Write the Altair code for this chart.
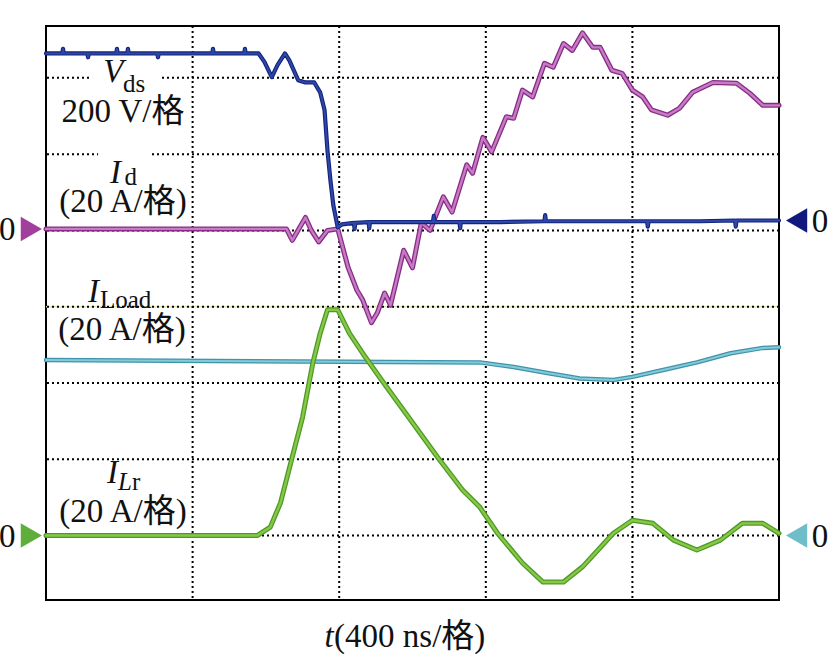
import altair as alt
import pandas as pd

# Oscilloscope capture: time in divisions (400 ns/div), amplitude in vertical divisions
vds_t = [0.00, 0.111, 0.116, 0.121, 0.282, 0.287, 0.292, 0.479, 0.484, 0.489, 0.554, 0.559, 0.564,
         0.759, 0.764, 0.769, 1.134, 1.139, 1.144, 1.352, 1.357, 1.362, 1.45,
         1.49, 1.54, 1.58, 1.63, 1.66, 1.72, 1.77, 1.83, 1.87, 1.90, 1.92, 1.94,
         1.96, 1.99, 2.02, 2.10, 2.105, 2.11, 2.20, 2.205, 2.21, 2.41, 2.64, 2.645, 2.65, 2.82, 2.825, 2.83,
         3.10, 3.40, 3.405, 3.41, 3.78, 4.10, 4.105, 4.11, 4.46, 4.70, 4.705, 4.71, 5.00]
vds_v = [6.32, 6.32, 6.38, 6.32, 6.32, 6.27, 6.32, 6.32, 6.38, 6.32, 6.32, 6.38, 6.32,
         6.32, 6.27, 6.32, 6.32, 6.38, 6.32, 6.32, 6.38, 6.32, 6.32,
         6.21, 6.01, 6.17, 6.32, 6.23, 5.97, 5.94, 5.94, 5.81, 5.58, 5.05, 4.66,
         4.33, 4.04, 4.08, 4.10, 4.02, 4.10, 4.11, 4.03, 4.11, 4.11, 4.11, 4.19, 4.11, 4.11, 4.03, 4.11,
         4.11, 4.12, 4.20, 4.12, 4.12, 4.12, 4.05, 4.12, 4.12, 4.13, 4.05, 4.13, 4.13]

id_t = [0.00, 1.64, 1.68, 1.77, 1.81, 1.86, 1.92, 1.99, 2.06, 2.12, 2.16, 2.22, 2.26, 2.31, 2.35, 2.44,
        2.50, 2.56, 2.62, 2.71, 2.77, 2.87, 2.91, 2.98, 3.04, 3.14, 3.19, 3.25, 3.32, 3.40, 3.46, 3.53,
        3.59, 3.66, 3.73, 3.78, 3.86, 3.93, 4.00, 4.07, 4.13, 4.24, 4.32, 4.41, 4.55, 4.71, 4.80, 4.89, 5.00]
id_v = [4.02, 4.02, 3.87, 4.17, 4.00, 3.85, 4.00, 4.02, 3.52, 3.22, 3.09, 2.79, 2.92, 3.18, 3.02, 3.74,
        3.51, 4.10, 4.00, 4.44, 4.24, 4.86, 4.75, 5.22, 5.03, 5.49, 5.47, 5.84, 5.75, 6.19, 6.14, 6.45,
        6.36, 6.59, 6.40, 6.40, 6.10, 6.06, 5.84, 5.75, 5.58, 5.51, 5.60, 5.81, 5.94, 5.93, 5.80, 5.64, 5.64]

iload_t = [0.00, 2.96, 3.19, 3.42, 3.64, 3.87, 4.00, 4.21, 4.44, 4.67, 4.89, 5.00]
iload_v = [2.30, 2.27, 2.21, 2.13, 2.06, 2.04, 2.08, 2.17, 2.27, 2.39, 2.46, 2.47]

ilr_t = [0.00, 1.44, 1.53, 1.60, 1.68, 1.75, 1.82, 1.87, 1.92, 1.99, 2.07, 2.16, 2.30, 2.44, 2.67, 2.84,
         2.96, 3.08, 3.25, 3.39, 3.53, 3.66, 3.87, 4.00, 4.14, 4.28, 4.44, 4.60, 4.75, 4.89, 5.00]
ilr_v = [0.00, 0.00, 0.11, 0.43, 1.03, 1.55, 2.26, 2.65, 2.96, 2.96, 2.65, 2.39, 2.01, 1.64, 1.03, 0.60,
         0.37, 0.03, -0.36, -0.61, -0.61, -0.41, 0.03, 0.20, 0.16, -0.06, -0.19, -0.06, 0.16, 0.16, 0.03]

x_grid = [1, 2, 3, 4]
y_grid = [0, 1, 2, 3, 4, 5, 6]

# ground markers (channel zero levels)
marker_x = [-0.10, -0.10, 5.12, 5.12]
marker_y = [4.02, 0.00, 4.13, 0.00]
marker_shape = ["triangle-right", "triangle-right", "triangle-left", "triangle-left"]
marker_color = ["#a23f9c", "#5fae3c", "#10197e", "#6fbccb"]

zero_x = [-0.265, -0.265, 5.28, 5.28]
zero_y = [3.87, -0.15, 3.98, -0.15]

# labels
ital_text = ["V", "I", "I", "I", "L", "t"]
ital_x = [0.39, 0.436, 0.287, 0.416, 0.491, 1.90]
ital_y = [5.94, 4.62, 3.06, 0.69, 0.60, -1.46]
ital_size = [33, 33, 33, 33, 25, 33]

sub_text = ["ds", "d", "Load", "r", "(400 ns/格)"]
sub_x = [0.525, 0.535, 0.368, 0.586, 1.965]
sub_y = [5.82, 4.60, 2.98, 0.60, -1.46]
sub_size = [25, 25, 25, 25, 33]

scale_text = ["200 V/格", "(20 A/格)", "(20 A/格)", "(20 A/格)"]
scale_x = [0.525, 0.525, 0.518, 0.525]
scale_y = [5.42, 4.24, 2.56, 0.18]

box_x = [0.314, 0.355]
box_x2 = [0.778, 0.709]
box_y = [5.77, 4.53]
box_y2 = [6.21, 5.05]

FONT = "Liberation Serif, Times New Roman, Noto Sans CJK SC"

X = alt.X("t:Q", scale=alt.Scale(domain=[0, 5], nice=False, zero=False), axis=None)
Y = alt.Y("v:Q", scale=alt.Scale(domain=[-0.845, 6.68], nice=False, zero=False), axis=None)


def trace(ts, vs, edge, core, w_edge=5.0, w_core=2.4):
    df = pd.DataFrame({"t": ts, "v": vs, "o": list(range(len(ts)))})
    base = alt.Chart(df).encode(x=X, y=Y, order="o:Q")
    return (base.mark_line(color=edge, strokeWidth=w_edge, strokeJoin="round", strokeCap="round")
            + base.mark_line(color=core, strokeWidth=w_core, strokeJoin="round", strokeCap="round"))


grid_x = alt.Chart(pd.DataFrame({"t": x_grid})).mark_rule(
    color="#000", strokeWidth=2, strokeDash=[2, 3]).encode(x=X)
grid_y = alt.Chart(pd.DataFrame({"v": y_grid})).mark_rule(
    color="#000", strokeWidth=2, strokeDash=[2, 3]).encode(y=Y)
faint = alt.Chart(pd.DataFrame({"v": [3]})).mark_rule(
    color="#e3e8b6", strokeWidth=1.5).encode(y=Y)

boxes = alt.Chart(pd.DataFrame({"t": box_x, "t2": box_x2, "v": box_y, "v2": box_y2})).mark_rect(
    color="white").encode(x=X, x2="t2:Q", y=Y, y2="v2:Q")

markers = alt.Chart(pd.DataFrame({"t": marker_x, "v": marker_y, "s": marker_shape, "c": marker_color})).mark_point(
    filled=True, size=600, opacity=1).encode(
    x=X, y=Y, shape=alt.Shape("s:N", scale=None), color=alt.Color("c:N", scale=None))

zeros = alt.Chart(pd.DataFrame({"t": zero_x, "v": zero_y, "txt": ["0"] * 4})).mark_text(
    font=FONT, fontSize=33, align="center", baseline="alphabetic", color="#111").encode(
    x=X, y=Y, text="txt:N")

ital = alt.Chart(pd.DataFrame({"t": ital_x, "v": ital_y, "txt": ital_text, "sz": ital_size})).mark_text(
    font=FONT, fontStyle="italic", align="left", baseline="alphabetic", color="#111").encode(
    x=X, y=Y, text="txt:N", size=alt.Size("sz:Q", scale=None))

sub = alt.Chart(pd.DataFrame({"t": sub_x, "v": sub_y, "txt": sub_text, "sz": sub_size})).mark_text(
    font=FONT, align="left", baseline="alphabetic", color="#111").encode(
    x=X, y=Y, text="txt:N", size=alt.Size("sz:Q", scale=None))

scales = alt.Chart(pd.DataFrame({"t": scale_x, "v": scale_y, "txt": scale_text})).mark_text(
    font=FONT, fontSize=33, align="center", baseline="alphabetic", color="#111").encode(
    x=X, y=Y, text="txt:N")

chart = alt.layer(
    faint, grid_x, grid_y, boxes,
    trace(iload_t, iload_v, "#3f93aa", "#84cad9", 4.5, 2.0),
    trace(ilr_t, ilr_v, "#4f9a22", "#86c84a"),
    trace(id_t, id_v, "#862d83", "#c77ac6"),
    trace(vds_t, vds_v, "#14227f", "#2d48a6", 4.2, 2.0),
    markers, zeros, ital, sub, scales,
).properties(
    width=733, height=574,
    autosize=alt.AutoSizeParams(type="none"),
    padding={"left": 46, "top": 26, "right": 50, "bottom": 56},
    background="white",
).configure_view(stroke="black", strokeWidth=2)

chart.save("out.html", embed_options={"renderer": "svg", "actions": False})
